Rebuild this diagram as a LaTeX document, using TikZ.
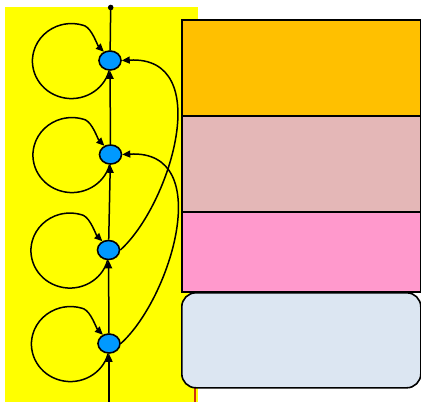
\documentclass[tikz,border=0pt]{standalone}
\usetikzlibrary{arrows.meta,calc,shapes.geometric}
\definecolor{yel}{HTML}{FFFF00}
\definecolor{orng}{HTML}{FFC000}
\definecolor{rose}{HTML}{E4B7B7}
\definecolor{pnk}{HTML}{FF99CC}
\definecolor{lblue}{HTML}{DCE6F2}
\definecolor{nblue}{HTML}{0099FF}
\definecolor{redl}{HTML}{D03010}
\tikzset{
  state/.style={ellipse,draw=black,line width=1.6pt,fill=nblue,minimum width=22pt,minimum height=19pt,inner sep=0pt},
  arr/.style={line width=1.5pt,-{Triangle[length=8pt,width=7pt]}},
  plain/.style={line width=1.5pt},
  band/.style={draw=black,line width=1.6pt}
}
\begin{document}
\begin{tikzpicture}[x=1pt,y=1pt]
\useasboundingbox (0,0) rectangle (421,-402);
% yellow background
\fill[yel] (5,-7) rectangle (198,-402);
% red line
\draw[redl,line width=1.6pt] (195,-380) -- (195,-402);
% right bands
\node[band,fill=orng,minimum width=239pt,minimum height=96pt,inner sep=0pt,anchor=north west] (b1) at (181,-19) {};
\node[band,fill=rose,minimum width=239pt,minimum height=96pt,inner sep=0pt,anchor=north west] (b2) at (181,-115) {};
\node[band,fill=pnk,minimum width=239pt,minimum height=80pt,inner sep=0pt,anchor=north west] (b3) at (181,-211) {};
\node[band,fill=lblue,rounded corners=14pt,minimum width=239pt,minimum height=95pt,inner sep=0pt,anchor=north west] (b4) at (181,-292) {};
% states
\node[state] (n1) at (110,-60.5) {};
\node[state] (n2) at (110.5,-154.5) {};
\node[state] (n3) at (108.5,-250) {};
\node[state] (n4) at (109,-343.5) {};
\coordinate (top) at (110.7,-7.5);
\coordinate (bot) at (109,-402);
% vertical chain
\draw[plain] (n1) -- (top);
\fill (top) circle[radius=2.8];
\draw[arr] (n2) -- (n1);
\draw[arr] (n3) -- (n2);
\draw[arr] (n4) -- (n3);
\draw[arr] (bot) -- (n4);
% self loops
\foreach \n in {n1,n2,n3,n4}{
  \draw[arr] (\n.265) arc[start angle=-15, end angle=-290, x radius=39, y radius=37.5]
     .. controls ($(\n)+(-18,31.5)$) and ($(\n)+(-12.5,15)$) .. (\n.125);
}
% long curves
\draw[arr] (n3.east) .. controls ($(n3.east)+(50,45)$) and ($(n1.east)+(94,5)$) .. (n1.east);
\draw[arr] (n4.east) .. controls ($(n4.east)+(50,45)$) and ($(n2.east)+(94,5)$) .. (n2.east);
\end{tikzpicture}
\end{document}
